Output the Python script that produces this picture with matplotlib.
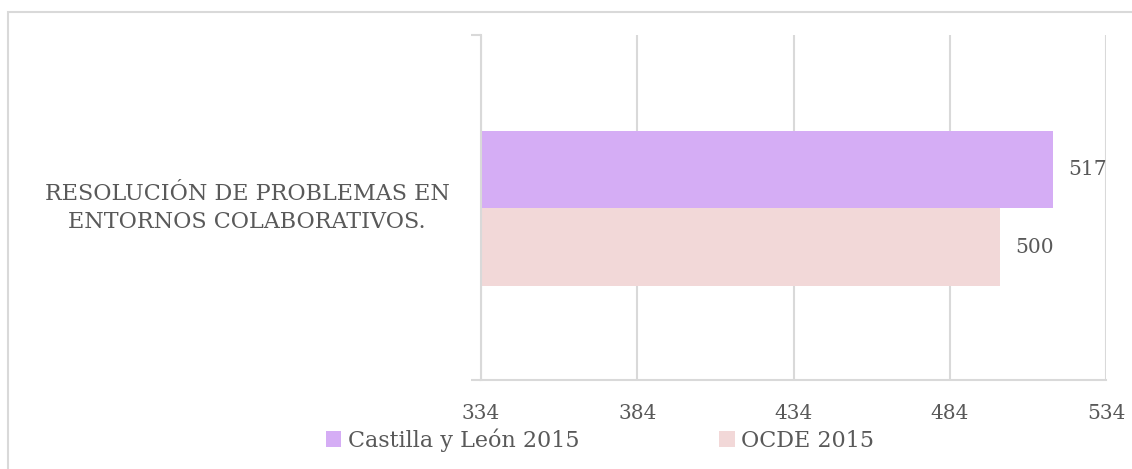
import matplotlib.pyplot as plt
from matplotlib.patches import Rectangle

categoria = "RESOLUCIÓN DE PROBLEMAS EN\nENTORNOS COLABORATIVOS."
series = ["Castilla y León 2015", "OCDE 2015"]
valores = [517, 500]
colores = ["#D5ADF5", "#F2D8D8"]
ticks = [334, 384, 434, 484, 534]

plt.rcParams['font.family'] = ['DejaVu Serif']
gris = "#595959"
linea = "#D9D9D9"

fig = plt.figure(figsize=(11.32, 4.69), dpi=100)
# marco exterior
fig.patches.append(Rectangle((8 / 1132, -0.2), 1.2, 1.2 - 12 / 469,
                             transform=fig.transFigure, fill=False,
                             edgecolor=linea, linewidth=1.5))

ax = fig.add_axes([481 / 1132, 1 - 380 / 469, 625 / 1132, 345 / 469])
alto = 0.225
desp = [0.11, -0.115]
for v, c, d, s in zip(valores, colores, desp, series):
    ax.barh(d, v - ticks[0], left=ticks[0], height=alto, color=c, label=s)
    ax.text(v + 5, d, str(v), va="center", ha="left", fontsize=14.5, color=gris)

ax.set_xlim(ticks[0], ticks[-1])
ax.set_ylim(-0.5, 0.5)
ax.set_xticks(ticks)
ax.set_xticklabels([str(t) for t in ticks], fontsize=14.5, color=gris)
ax.tick_params(axis="x", length=0, pad=17)
ax.set_yticks([-0.5, 0.5])
ax.set_yticklabels([])
ax.tick_params(axis="y", length=7, color=linea, width=1.5)
ax.grid(axis="x", color=linea, linewidth=1.5)
ax.set_axisbelow(True)
for lado in ["top", "right"]:
    ax.spines[lado].set_visible(False)
for lado in ["left", "bottom"]:
    ax.spines[lado].set_color(linea)
    ax.spines[lado].set_linewidth(1.5)

fig.text(247 / 1132, 1 - 208 / 469, categoria, ha="center", va="center",
         multialignment="center", fontsize=16, color=gris, linespacing=1.3)

leg = fig.legend(loc="center", bbox_to_anchor=(600 / 1132, 1 - 440 / 469), ncol=2,
                 frameon=False, fontsize=16, handlelength=0.7, handleheight=0.7,
                 handletextpad=0.3, columnspacing=6.3)
for t in leg.get_texts():
    t.set_color(gris)

fig.savefig("out.png", dpi=100)
